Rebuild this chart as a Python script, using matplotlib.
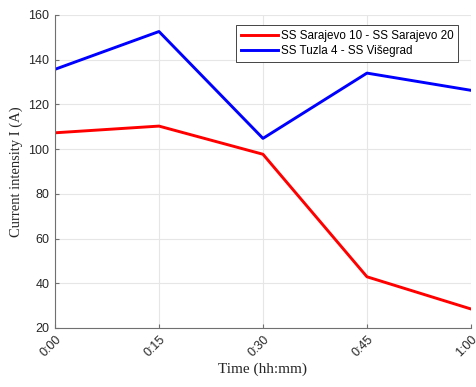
import numpy as np
import matplotlib.pyplot as plt

# load flow over one hour, sampled every 15 minutes
times = ['0:00', '0:15', '0:30', '0:45', '1:00']
sarajevo = [107.3, 110.3, 97.7, 42.9, 28.5]
tuzla = [135.7, 152.6, 104.8, 134.0, 126.3]

fig = plt.figure(figsize=(4.77, 3.87), dpi=100)
ax = fig.add_axes([0.1153, 0.1525, 0.872, 0.8088])

x = np.arange(len(times))
ax.plot(x, sarajevo, color='#ff0000', linewidth=2.1, label='SS Sarajevo 10 - SS Sarajevo 20')
ax.plot(x, tuzla, color='#0000ff', linewidth=2.1, label='SS Tuzla 4 - SS Višegrad')

ax.set_xlim(0, len(times) - 1)
ax.set_ylim(20, 160)
ax.set_xticks(x)
ax.set_xticklabels(times, rotation=45, ha='right', rotation_mode='anchor')
ax.set_yticks(np.arange(20, 161, 20))

for lbl in ax.get_xticklabels() + ax.get_yticklabels():
    lbl.set_family('Liberation Sans')
    lbl.set_fontsize(9)
    lbl.set_color('#262626')

ax.grid(True, color='#e6e6e6', linewidth=0.8)
ax.set_axisbelow(True)
for side in ['top', 'right']:
    ax.spines[side].set_visible(False)
for side in ['left', 'bottom']:
    ax.spines[side].set_color('#707070')
    ax.spines[side].set_linewidth(0.8)
ax.tick_params(direction='in', length=3, color='#707070', pad=4)

ax.set_xlabel('Time (hh:mm)', family='Liberation Serif', fontsize=11, color='#262626', labelpad=2)
ax.set_ylabel('Current intensity I (A)', family='Liberation Serif', fontsize=10.5, color='#262626', labelpad=4)

leg = ax.legend(loc='upper right', bbox_to_anchor=(0.969, 0.968),
                prop={'family': 'Liberation Sans', 'size': 8.4},
                fancybox=False, framealpha=1, edgecolor='#262626',
                handlelength=3.2, handletextpad=0.25, borderpad=0.4,
                labelspacing=0.3, borderaxespad=0)
leg.get_frame().set_linewidth(0.6)

fig.savefig('out.png', dpi=100)
